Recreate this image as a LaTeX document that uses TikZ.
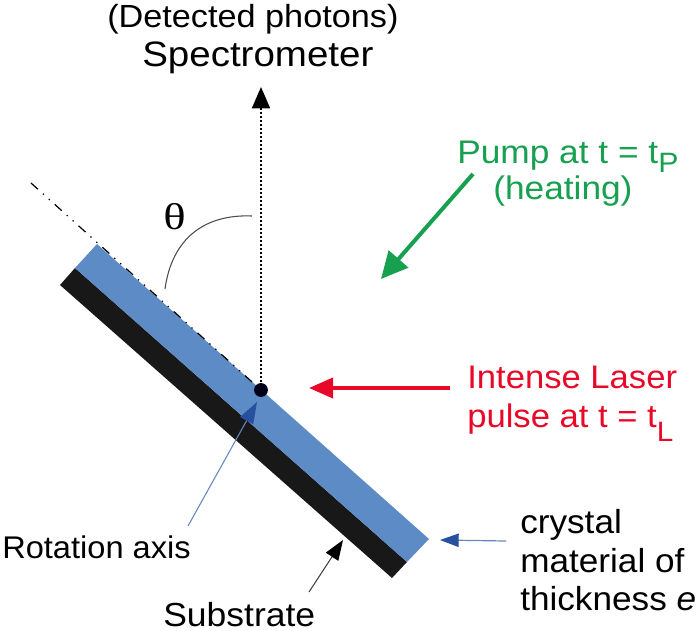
\documentclass[tikz,border=0pt]{standalone}
\usepackage{fontspec}
\setmainfont{Liberation Sans}
\newfontfamily\serifgreek{Liberation Serif}
\usetikzlibrary{arrows.meta}
\definecolor{crystalblue}{RGB}{93,139,197}
\definecolor{subs}{RGB}{24,24,24}
\definecolor{pumpgreen}{RGB}{22,160,80}
\definecolor{laserred}{RGB}{232,8,40}
\definecolor{tipblue}{RGB}{40,80,160}
\definecolor{shaftblue}{RGB}{100,135,190}
\newcommand{\fs}[1]{\fontsize{#1}{#1}\selectfont}
\newcommand{\sx}[2]{\scalebox{#1}[1]{#2}}
\tikzset{
 x=0.75pt,y=-0.75pt,
 txt/.style={inner sep=0pt,anchor=base west},
}
\begin{document}
\begin{tikzpicture}
\useasboundingbox (0,0) rectangle (700,631);
\coordinate (tl) at (97,244);
\coordinate (bl) at (75,268);
\coordinate (sl) at (60,285);
\coordinate (br) at (429,539);
\coordinate (bb) at (407,562);
\coordinate (sb) at (392,578);
\coordinate (axis) at (261,390);
\coordinate (far) at (31,183);
\coordinate (top) at (261,87);
\fill[subs] (bl)--(sl)--(sb)--(bb)--cycle;
\fill[crystalblue] (tl)--(bl)--(bb)--(br)--cycle;
\draw[black,line width=0.9pt,dash pattern=on 7pt off 5pt on 1pt off 5pt on 1pt off 5pt] (far)--(axis);
\draw[black,line width=1.3pt,dash pattern=on 1.5pt off 1.5pt,-{Triangle[length=16pt,width=13.5pt,sep=0pt]}] (axis)--(top);
\fill[black!90!blue] (axis) circle (5.2pt);
\draw[black!70,line width=0.8pt] (165,289) .. controls (172,238) and (205,214) .. (252,216);
\node[txt] (theta) at (163,229) {\sx{1.25}{\serifgreek\fs{28}θ}};
\node[txt] (t1) at (107,28) {\sx{1.07}{\fs{24}(Detected photons)}};
\node[txt] (t2) at (142,67) {\sx{1.09}{\fs{26.5}Spectrometer}};
\node[txt,text=pumpgreen] (pumpA) at (457,164) {\sx{1.08}{\fs{24.5}Pump at t = t\raisebox{-6.5pt}{\fs{21}P}}};
\node[txt,text=pumpgreen] (pumpB) at (493,200) {\sx{1.08}{\fs{24.5}(heating)}};
\coordinate (ps) at (473,174);
\coordinate (pe) at (381,279);
\draw[pumpgreen,line width=3pt,-{Triangle[length=20pt,width=19pt]}] (ps)--(pe);
\node[txt,text=laserred] (laserA) at (467,388) {\sx{1.06}{\fs{24.5}Intense Laser}};
\node[txt,text=laserred] (laserB) at (467,427) {\sx{1.06}{\fs{24.5}pulse at t = t\raisebox{-10.5pt}{\fs{21}L}}};
\coordinate (ls) at (450,388);
\coordinate (le) at (309,388);
\draw[laserred,line width=3pt,-{Triangle[length=18pt,width=15pt]}] (ls)--(le);
\node[txt] (rot) at (2,558) {\sx{1.04}{\fs{23.5}Rotation axis}};
\coordinate (rs) at (188,526);
\coordinate (re) at (257,402);
\draw[shaftblue,line width=0.8pt,-{Triangle[length=16pt,width=11pt,color=tipblue,fill=tipblue]}] (rs)--(re);
\node[txt] (sub) at (163,626) {\sx{1.065}{\fs{25}Substrate}};
\coordinate (ss) at (309,592);
\coordinate (se) at (343,540);
\draw[black!75,line width=0.8pt,-{Triangle[length=15pt,width=11pt,color=black,fill=black]}] (ss)--(se);
\node[txt] (crA) at (520,533) {\sx{1.055}{\fs{25}crystal}};
\node[txt] (crB) at (520,572) {\sx{1.055}{\fs{25}material of}};
\node[txt] (crC) at (520,610) {\sx{1.055}{\fs{25}thickness \textit{e}}};
\coordinate (cs) at (506,541);
\coordinate (ce) at (440,540);
\draw[shaftblue,line width=0.9pt,-{Triangle[length=14pt,width=10pt,color=tipblue,fill=tipblue]}] (cs)--(ce);
\end{tikzpicture}
\end{document}
